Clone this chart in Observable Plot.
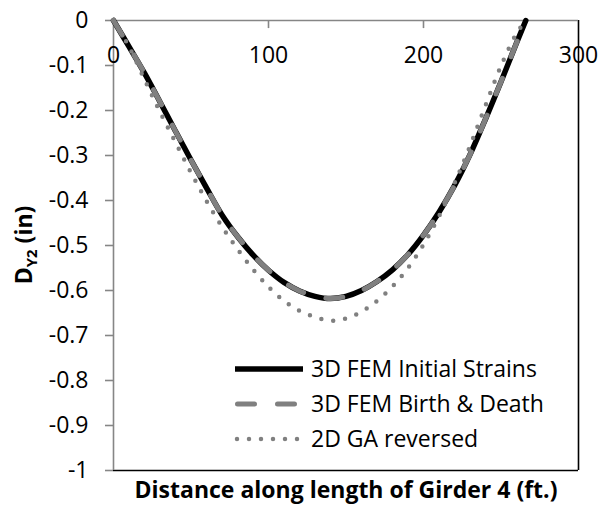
<!DOCTYPE html>
<html><head><meta charset="utf-8">
<script src="https://cdn.jsdelivr.net/npm/d3@7"></script>
<script src="https://cdn.jsdelivr.net/npm/@observablehq/plot@0.6"></script>
<style>
body{margin:0;background:#fff}
#chart svg{font-family:"Open Sans",sans-serif;display:block}
</style>
</head><body><div id="chart"></div>
<script>
const distance = [0,10,20,30,40,50,60,70,80,90,100,110,120,130,140,150,160,170,180,190,200,210,220,230,240,250,260,266];
const initialStrains = [0,-0.058,-0.117,-0.181,-0.246,-0.310,-0.372,-0.432,-0.480,-0.521,-0.555,-0.582,-0.601,-0.613,-0.618,-0.613,-0.600,-0.580,-0.554,-0.520,-0.477,-0.426,-0.367,-0.298,-0.219,-0.136,-0.050,0];
const birthDeath = [0,-0.058,-0.117,-0.181,-0.246,-0.310,-0.372,-0.432,-0.480,-0.521,-0.555,-0.582,-0.601,-0.613,-0.618,-0.613,-0.600,-0.580,-0.554,-0.520,-0.477,-0.426,-0.367,-0.298,-0.219,-0.136,-0.050,0];
const gaReversed = [0,-0.058,-0.131,-0.203,-0.271,-0.338,-0.401,-0.458,-0.508,-0.553,-0.592,-0.623,-0.645,-0.659,-0.667,-0.662,-0.647,-0.623,-0.591,-0.550,-0.498,-0.435,-0.362,-0.279,-0.189,-0.101,-0.029,0];
const seriesNames = ["3D FEM Initial Strains","3D FEM Birth & Death","2D GA reversed"];
const xTicks = [0,100,200,300];
const yTicks = [0,-0.1,-0.2,-0.3,-0.4,-0.5,-0.6,-0.7,-0.8,-0.9,-1];
const yTickLabels = ["0","-0.1","-0.2","-0.3","-0.4","-0.5","-0.6","-0.7","-0.8","-0.9","-1"];
const xTitle = "Distance along length of Girder 4 (ft.)";
const yTitleMain = "D", yTitleSub = "Y2", yTitleRest = " (in)";

const data = distance.map((d,i)=>({x:d, a:initialStrains[i], b:birthDeath[i], c:gaReversed[i]}));
const axisGray = "#868686", seriesGray = "#808080";
const FS = 23;

const plot = Plot.plot({
  width:604, height:508,
  marginLeft:113, marginRight:26, marginTop:20, marginBottom:38,
  style:{fontFamily:'"Open Sans",sans-serif', fontSize:FS+"px", color:"#000", background:"#fff", overflow:"visible"},
  x:{domain:[0,300], axis:null},
  y:{domain:[-1,0], axis:null},
  marks:[
    Plot.ruleY([-1],{stroke:"#000", strokeWidth:1.6}),
    Plot.ruleX([300],{stroke:"#000", strokeWidth:1.6}),
    Plot.ruleX([0],{stroke:axisGray, strokeWidth:1.6}),
    Plot.ruleY([0],{stroke:axisGray, strokeWidth:1.6}),
    Plot.ruleX(xTicks.filter(d=>d>0 && d<300),{y1:0, y2:-0.018, stroke:axisGray, strokeWidth:1.6}),
    Plot.axisY({ticks:yTicks, tickFormat:d=>yTickLabels[yTicks.indexOf(d)], tickSize:8, tickPadding:17,
      stroke:axisGray, strokeWidth:1.6, fill:"#000", label:null, fontSize:FS}),
    Plot.text(xTicks,{x:d=>d, y:0, dy:35, text:d=>String(d), fill:"#000", fontSize:FS}),
    Plot.line(data,{x:"x", y:"a", stroke:"#000", strokeWidth:5.5, curve:"catmull-rom"}),
    Plot.line(data,{x:"x", y:"b", stroke:seriesGray, strokeWidth:5, strokeDasharray:"17,23", strokeLinecap:"round", curve:"catmull-rom"}),
    Plot.line(data,{x:"x", y:"c", stroke:seriesGray, strokeWidth:4.5, strokeDasharray:"0,12", strokeLinecap:"round", curve:"catmull-rom"}),
    Plot.text([xTitle],{frameAnchor:"bottom", dy:20, lineAnchor:"middle", fontWeight:"bold", fontSize:FS, fill:"#000"})
  ]
});
document.getElementById("chart").appendChild(plot);

const svg = d3.select(plot);
const ys = plot.scale("y");
// y-axis title with subscript
const yt = svg.append("text")
  .attr("transform", `translate(32,${ys.apply(-0.5)}) rotate(-90)`)
  .attr("text-anchor","middle")
  .attr("font-weight","bold").attr("font-size",FS).attr("fill","#000");
yt.append("tspan").text(yTitleMain);
yt.append("tspan").attr("font-size",15).attr("dy",5).text(yTitleSub);
yt.append("tspan").attr("dy",-5).text(yTitleRest);

// legend
const lg = svg.append("g").attr("transform","translate(235,369)");
const styles = [
  {stroke:"#000", w:5.5, dash:null, cap:"butt"},
  {stroke:seriesGray, w:5, dash:"17,23", cap:"round"},
  {stroke:seriesGray, w:4.5, dash:"0,12", cap:"round"}
];
seriesNames.forEach((name,i)=>{
  const g = lg.append("g").attr("transform",`translate(0,${i*35})`);
  const s = styles[i];
  const ln = g.append("line").attr("x1", i===1?2.5:(i===2?2:0)).attr("x2", 68).attr("y1",0).attr("y2",0)
    .attr("stroke",s.stroke).attr("stroke-width",s.w).attr("stroke-linecap",s.cap);
  if (s.dash) ln.attr("stroke-dasharray",s.dash);
  g.append("text").attr("x",76).attr("y",0).attr("dy","0.36em").attr("text-anchor","start")
    .attr("font-size",FS).attr("fill","#000").text(name);
});
</script>
</body></html>
